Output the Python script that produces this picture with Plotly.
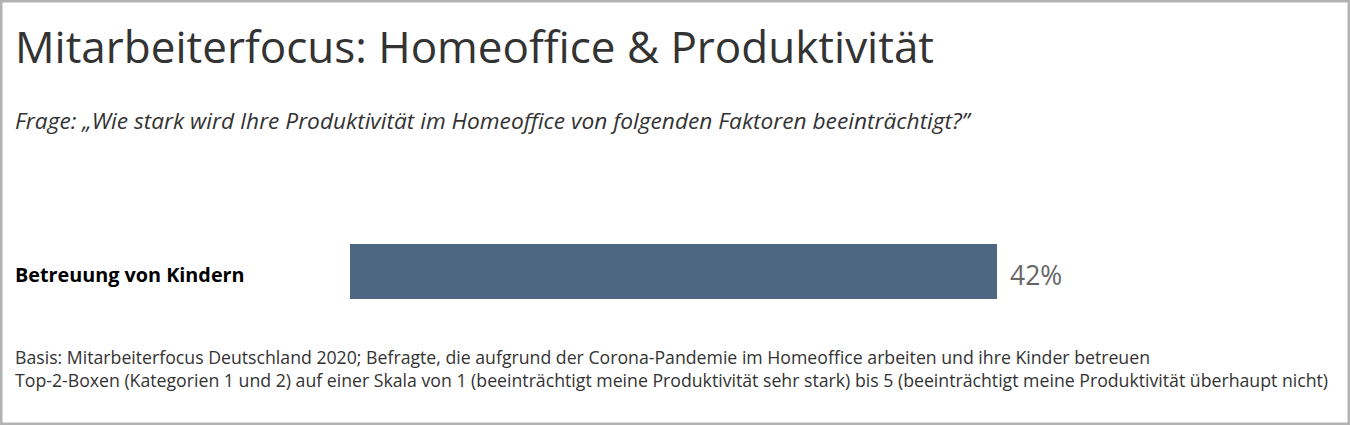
import plotly.graph_objects as go

# ── Data ────────────────────────────────────────────────────────────────────────

categories   = ["Betreuung von Kindern"]
values       = [42]
value_labels = ["42%"]

title_text    = "Mitarbeiterfocus: Homeoffice & Produktivität"
subtitle_text = "Frage: „Wie stark wird Ihre Produktivität im Homeoffice von folgenden Faktoren beeinträchtigt?\u201d"
footnote_lines = [
    "Basis: Mitarbeiterfocus Deutschland 2020; Befragte, die aufgrund der Corona-Pandemie im Homeoffice arbeiten und ihre Kinder betreuen",
    "Top-2-Boxen (Kategorien 1 und 2) auf einer Skala von 1 (beeinträchtigt meine Produktivität sehr stark) bis 5 (beeinträchtigt meine Produktivität überhaupt nicht)",
]

# ── Layout constants ───────────────────────────────────────────────────────────

W, H     = 1350, 425
FONT     = "Open Sans"
BAR_CLR  = "#4d6682"
TEXT_CLR = "#333333"
LEFT     = 13 / W   # annotation box padding adds ~3 px

fig = go.Figure()

fig.add_trace(go.Bar(
    x=values, y=categories, orientation="h",
    marker=dict(color=BAR_CLR, line=dict(width=0)),
    width=1, hoverinfo="skip",
))

# value labels next to the bar end
for cat, val, lab in zip(categories, values, value_labels):
    fig.add_annotation(x=val, y=cat, xref="x", yref="y", text=lab,
                       showarrow=False, xanchor="left", yanchor="middle", xshift=11, yshift=-3,
                       font=dict(family=FONT, size=26.5, color="#666666"))
    # category label, left aligned at the page edge
    fig.add_annotation(x=LEFT, y=cat, xref="paper", yref="y", text=f"<b>{cat}</b>",
                       showarrow=False, xanchor="left", yanchor="middle", yshift=-3,
                       font=dict(family=FONT, size=19.8, color="#000000"))

fig.add_annotation(x=LEFT, y=1 - 46 / H, xref="paper", yref="paper", text=title_text,
                   showarrow=False, xanchor="left", yanchor="middle",
                   font=dict(family=FONT, size=44, color=TEXT_CLR))
fig.add_annotation(x=LEFT, y=1 - 120 / H, xref="paper", yref="paper", text=f"<i>{subtitle_text}</i>",
                   showarrow=False, xanchor="left", yanchor="middle",
                   font=dict(family=FONT, size=22.7, color=TEXT_CLR))
for i, line in enumerate(footnote_lines):
    fig.add_annotation(x=LEFT, y=1 - (357 + 23 * i) / H, xref="paper", yref="paper", text=line,
                       showarrow=False, xanchor="left", yanchor="middle",
                       font=dict(family=FONT, size=17.7, color=TEXT_CLR))

# frame round the whole picture
fig.add_shape(type="rect", xref="paper", yref="paper", x0=0, y0=0, x1=1, y1=1,
              line=dict(color="#b3b3b3", width=5), layer="above")

fig.update_layout(
    width=W, height=H, margin=dict(l=0, r=0, t=0, b=0),
    paper_bgcolor="white", plot_bgcolor="white",
    showlegend=False, bargap=0,
    xaxis=dict(domain=[350 / W, 997 / W], range=[0, max(values)],
               visible=False, fixedrange=True),
    yaxis=dict(domain=[1 - 299 / H, 1 - 244 / H], range=[-0.5, 0.5],
               visible=False, fixedrange=True),
)

# page margin off, so the figure sits flush in the window
fig.write_html("out.html", config={"displayModeBar": False},
               post_script="document.body.style.margin = '0';")
